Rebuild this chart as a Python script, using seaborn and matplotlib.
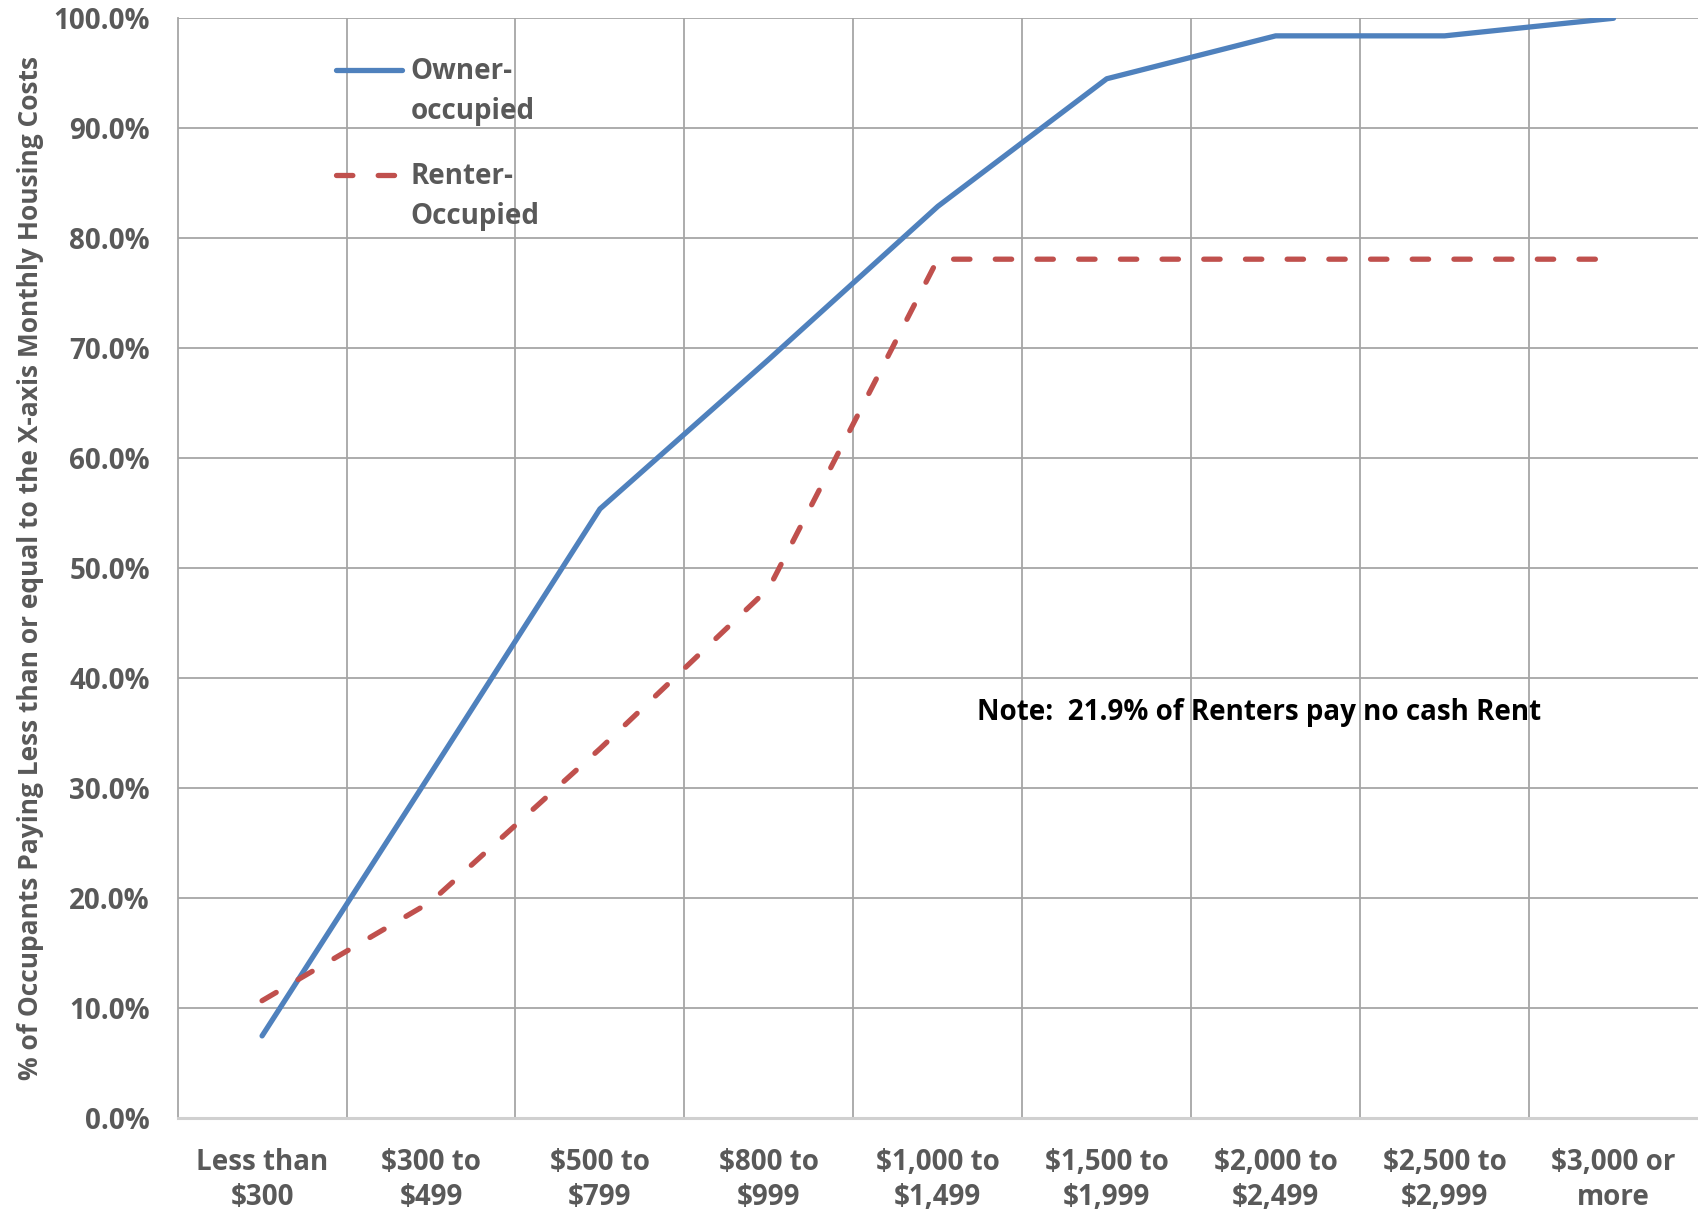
import numpy as np
import pandas as pd
import matplotlib
matplotlib.use("Agg")
import matplotlib.pyplot as plt
import seaborn as sns
from matplotlib.ticker import FixedLocator, FuncFormatter
from matplotlib.legend_handler import HandlerLine2D

# ----------------------------
# Data (in percent)
# ----------------------------
categories = [
    "Less than\n$300", "$300 to\n$499", "$500 to\n$799", "$800 to\n$999",
    "$1,000 to\n$1,499", "$1,500 to\n$1,999", "$2,000 to\n$2,499",
    "$2,500 to\n$2,999", "$3,000 or\nmore",
]
owner_pct = [7.5, 31.4, 55.4, 69.0, 82.9, 94.5, 98.4, 98.4, 100.0]
renter_pct = [10.7, 19.7, 33.6, 48.2, 78.1, 78.1, 78.1, 78.1, 78.1]
series_names = ["Owner-\noccupied", "Renter-\nOccupied"]
y_ticks = [0, 10, 20, 30, 40, 50, 60, 70, 80, 90, 100]
note_text = "Note:  21.9% of Renters pay no cash Rent"

# ----------------------------
# Build long-form table
# ----------------------------
df = pd.DataFrame({
    "pos": list(range(len(categories))) * 2,
    "pct": owner_pct + renter_pct,
    "series": [series_names[0]] * len(categories) + [series_names[1]] * len(categories),
})

sns.set_style("white")
plt.rcParams["font.family"] = ["Open Sans", "DejaVu Sans"]
plt.rcParams["text.parse_math"] = False

TEXT_GRAY = "#595959"
GRID_GRAY = "#A6A6A6"
FS = 20


# legend handle sits on the first line of a two-line label (Excel style)
class FirstLineHandler(HandlerLine2D):
    def __init__(self, shift, **kw):
        super().__init__(**kw)
        self.shift = shift

    def create_artists(self, legend, orig_handle, xdescent, ydescent,
                       width, height, fontsize, trans):
        artists = super().create_artists(legend, orig_handle, xdescent, ydescent,
                                         width, height, fontsize, trans)
        for a in artists:
            a.set_ydata(np.asarray(a.get_ydata(), dtype=float) + self.shift)
            a.set_dash_capstyle("round")
            a.set_solid_capstyle("round")
        return artists


fig = plt.figure(figsize=(16.98, 12.17), dpi=100)
ax = fig.add_axes([0.1046, 0.081, 0.8954, 0.904])

sns.lineplot(
    data=df, x="pos", y="pct", hue="series", style="series",
    palette={series_names[0]: "#4F81BD", series_names[1]: "#C0504D"},
    dashes={series_names[0]: "", series_names[1]: (3.1, 4.8)},
    linewidth=3.8, sort=False, ax=ax,
)
for line in ax.get_lines():
    line.set_dash_capstyle("round")
    line.set_solid_capstyle("round")

# ----------------------------
# Axes, grid, ticks
# ----------------------------
ax.set_xlim(-0.5, len(categories) - 0.5)
ax.set_ylim(0, 100)
ax.set_xticks(range(len(categories)))
ax.set_xticklabels(categories, fontsize=FS, fontweight="bold", color=TEXT_GRAY,
                   linespacing=1.3)
ax.xaxis.set_minor_locator(FixedLocator(np.arange(0.5, len(categories) - 1, 1.0)))
ax.set_yticks(y_ticks)
ax.yaxis.set_major_formatter(FuncFormatter(lambda v, p: f"{v:.1f}%"))
for t in ax.get_yticklabels():
    t.set_fontsize(FS)
    t.set_fontweight("bold")
    t.set_color(TEXT_GRAY)

ax.tick_params(axis="x", which="both", length=0, pad=21)
ax.tick_params(axis="y", length=0, pad=20)
ax.grid(axis="y", which="major", color=GRID_GRAY, linewidth=1.3)
ax.grid(axis="x", which="minor", color=GRID_GRAY, linewidth=1.3)
ax.set_axisbelow(True)

for side in ["top", "right"]:
    ax.spines[side].set_visible(False)
ax.spines["left"].set_color(GRID_GRAY)
ax.spines["left"].set_linewidth(1.3)
ax.spines["bottom"].set_color("#D0D0D0")
ax.spines["bottom"].set_linewidth(2.2)

ax.set_xlabel("")
ax.set_ylabel("% of Occupants Paying Less than or equal to the X-axis Monthly Housing Costs",
              fontsize=19, fontweight="bold", color=TEXT_GRAY)
ax.yaxis.set_label_coords(-0.088, 0.5)

# ----------------------------
# Legend and note
# ----------------------------
handles, labels = ax.get_legend_handles_labels()
leg = ax.legend(
    handles, labels,
    loc="upper left", bbox_to_anchor=(0.104, 0.965), frameon=False,
    fontsize=FS, handlelength=2.4, handletextpad=0.3, borderpad=0,
    borderaxespad=0, labelspacing=1.3,
    handler_map={h: FirstLineHandler(shift=16) for h in handles},
)
for t in leg.get_texts():
    t.set_fontweight("bold")
    t.set_color(TEXT_GRAY)
    t.set_linespacing(1.5)

ax.text(4.23, 36.9, note_text, fontsize=FS, fontweight="bold", color="black",
        ha="left", va="center")

fig.savefig("out.png", dpi=100)
plt.close(fig)
